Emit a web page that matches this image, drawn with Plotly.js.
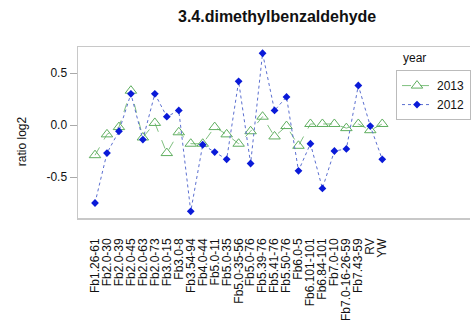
<!DOCTYPE html>
<html>
<head>
<meta charset="utf-8">
<script src="https://cdn.plot.ly/plotly-3.0.1.min.js"></script>
<style>html,body{margin:0;padding:0;background:#fff;}#chart{width:471px;height:336px;}</style>
</head>
<body>
<div id="chart"></div>
<script>
const categories = ["Fb1.26-61","Fb2.0-30","Fb2.0-39","Fb2.0-45","Fb2.0-63","Fb2.0-73","Fb3.0-15","Fb3.0-8","Fb3.54-94","Fb4.0-44","Fb5.0-11","Fb5.0-35","Fb5.0-35-56","Fb5.0-76","Fb5.39-76","Fb5.41-76","Fb5.50-76","Fb6.0-5","Fb6.101-101","Fb6.84-101","Fb7.0-10","Fb7.0-16-26-59","Fb7.43-59","RV","YW"];
const values2013 = [-0.29,-0.09,-0.02,0.33,-0.12,0.02,-0.27,-0.07,-0.18,-0.18,-0.02,-0.09,-0.18,-0.06,0.08,-0.11,-0.01,-0.20,0.01,0.01,0.01,-0.03,0.01,-0.05,0.01];
const values2012 = [-0.75,-0.27,-0.06,0.30,-0.14,0.30,0.08,0.14,-0.83,-0.19,-0.26,-0.33,0.42,-0.37,0.69,0.14,0.27,-0.44,-0.18,-0.61,-0.25,-0.23,0.38,-0.01,-0.33];
const yTicks = [-0.5, 0.0, 0.5];
const yTickText = ["-0.5","0.0","0.5"];

const xIdx = categories.map((c,i)=>i);

const traces = [
  {
    x: xIdx, y: values2013, name: "2013", type: "scatter", mode: "lines+markers",
    line: {color: "#7fc07f", width: 1, dash: "dash"},
    marker: {symbol: "triangle-up-open", size: 10, color: "#5fae5f", line: {width: 1, color: "#5fae5f"}}
  },
  {
    x: xIdx, y: values2012, name: "2012", type: "scatter", mode: "lines+markers",
    line: {color: "#5b6fd0", width: 1, dash: "dot"},
    marker: {symbol: "diamond", size: 6, color: "#0a1ad8"}
  }
];

const layout = {
  width: 471, height: 336,
  margin: {l: 78, r: 0, t: 47, b: 118, pad: 0},
  paper_bgcolor: "#fff", plot_bgcolor: "#fff",
  font: {family: "Liberation Sans, Arial, sans-serif", size: 12, color: "#111"},
  title: {text: "<b>3.4.dimethylbenzaldehyde</b>", x: 0.508, xref: "paper", y: 0.952, yref: "container",
          xanchor: "center", yanchor: "middle",
          font: {family: "Liberation Sans, Arial, sans-serif", size: 16, color: "#111"}},
  showlegend: true,
  legend: {x: 0.812, y: 0.865, xanchor: "left", yanchor: "top", bordercolor: "#bbb", borderwidth: 1,
           bgcolor: "#fff", font: {size: 12, color: "#111"}, tracegroupgap: 0, itemwidth: 30,
           entrywidth: 110, entrywidthmode: "pixels"},
  xaxis: {
    range: [-1.42, 31.33], tickmode: "array", tickvals: xIdx, ticktext: categories,
    tickangle: -90, showgrid: false, zeroline: false, showline: true, mirror: true,
    linecolor: "#c8c8c8", linewidth: 1.5, ticks: "", ticklabelstandoff: 14, tickfont: {size: 12, color: "#111"}
  },
  yaxis: {
    range: [-0.894, 0.75], tickmode: "array", tickvals: yTicks, ticktext: yTickText,
    showgrid: false, zeroline: false, showline: true, linecolor: "#c8c8c8", linewidth: 1.5,
    ticks: "outside", ticklen: 7, tickcolor: "#aaa", tickfont: {size: 12, color: "#111"}
  },
  annotations: [
    {text: "year", xref: "paper", yref: "paper", x: 0.825, y: 0.885, xanchor: "left", yanchor: "bottom",
     showarrow: false, font: {size: 12, color: "#111"}},
    {text: "ratio log2", xref: "paper", yref: "paper", x: -0.1425, y: 0.45, xanchor: "center", yanchor: "middle",
     textangle: -90, showarrow: false, font: {size: 12, color: "#111"}}
  ]
};

Plotly.newPlot("chart", traces, layout, {displayModeBar: false, staticPlot: true});
</script>
</body>
</html>
